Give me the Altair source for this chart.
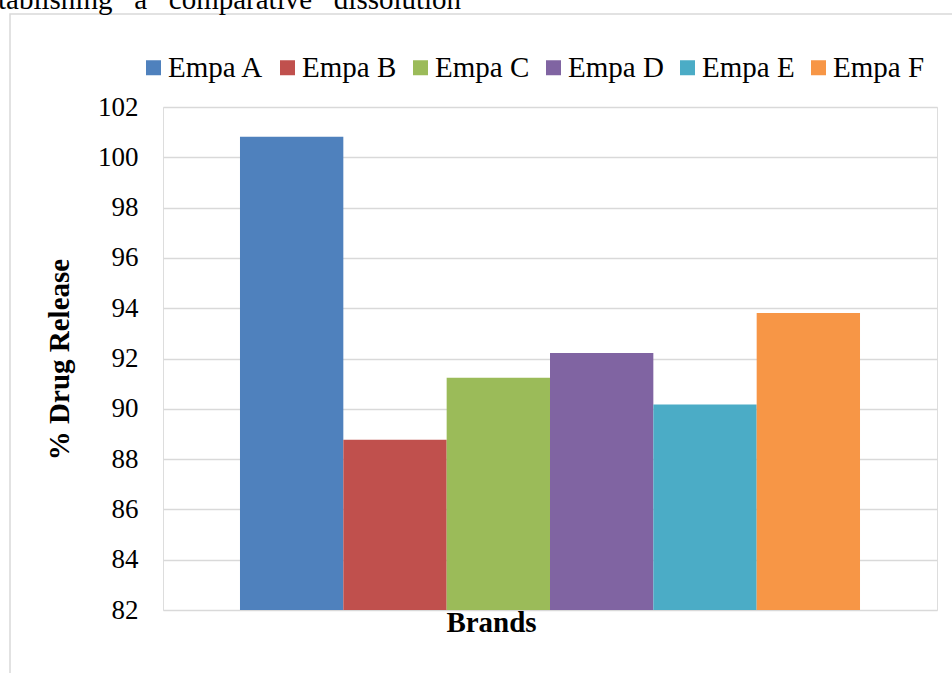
import altair as alt
import pandas as pd

brands = ["Empa A", "Empa B", "Empa C", "Empa D", "Empa E", "Empa F"]
release = [100.82, 88.77, 91.23, 92.22, 90.17, 93.81]
colors = ["#4F81BD", "#C0504D", "#9BBB59", "#8064A2", "#4BACC6", "#F79646"]
y_ticks = [82, 84, 86, 88, 90, 92, 94, 96, 98, 100, 102]
NB = "\u00a0\u00a0\u00a0"
page_text = NB.join(["tablishing", "a", "comparative", "dissolution"])

df = pd.DataFrame({"Brand": brands, "Release": release})
FONT = "Liberation Serif"

bars = alt.Chart(df).mark_bar(clip=True).encode(
    x=alt.X("Brand:N", sort=brands,
            scale=alt.Scale(paddingInner=0, paddingOuter=0.745),
            axis=alt.Axis(title="Brands", labels=False, ticks=False, domain=False,
                          titleFont=FONT, titleFontSize=29, titleFontWeight="bold",
                          titleColor="black", titleX=328, titleY=21,
                          titleAlign="center", titleBaseline="alphabetic")),
    y=alt.Y("Release:Q",
            scale=alt.Scale(domain=[82, 102], zero=False, nice=False),
            axis=alt.Axis(title="% Drug Release", values=y_ticks, ticks=False, tickSize=0,
                          domain=False, labelFont=FONT, labelFontSize=27,
                          labelColor="black", labelPadding=25,
                          titleFont=FONT, titleFontSize=29, titleFontWeight="bold",
                          titleColor="black", titleX=-95, titleY=252,
                          titleAlign="center", titleBaseline="alphabetic",
                          titleAngle=270,
                          gridColor="#d9d9d9", gridWidth=1.5)),
    color=alt.Color("Brand:N", sort=brands,
                    scale=alt.Scale(domain=brands, range=colors),
                    legend=alt.Legend(title=None, orient="none", direction="horizontal",
                                      legendX=-24, legendY=-54,
                                      symbolType="square", symbolSize=225,
                                      symbolStrokeWidth=0, labelFont=FONT,
                                      labelFontSize=29, labelColor="black",
                                      labelOffset=0, columnPadding=9)),
)

frame = alt.Chart(pd.DataFrame({"k": [0]})).mark_rect(
    fill=None, stroke="#d9d9d9", strokeWidth=1.5
).encode(
    x=alt.value(-153), x2=alt.value(800), y=alt.value(-93), y2=alt.value(600)
)

page = alt.Chart(pd.DataFrame({"t": [page_text]})).mark_text(
    font=FONT, fontSize=29, color="black", align="left", baseline="alphabetic"
).encode(
    text="t:N", x=alt.value(-165), y=alt.value(-98)
)

chart = alt.layer(frame, page, bars).properties(
    width=774, height=503,
    autosize=alt.AutoSizeParams(type="none"),
    padding={"left": 163, "top": 107, "right": 15, "bottom": 63},
).configure_view(stroke=None).configure(background="white")

chart.save("out.html", embed_options={"renderer": "svg", "actions": False})
